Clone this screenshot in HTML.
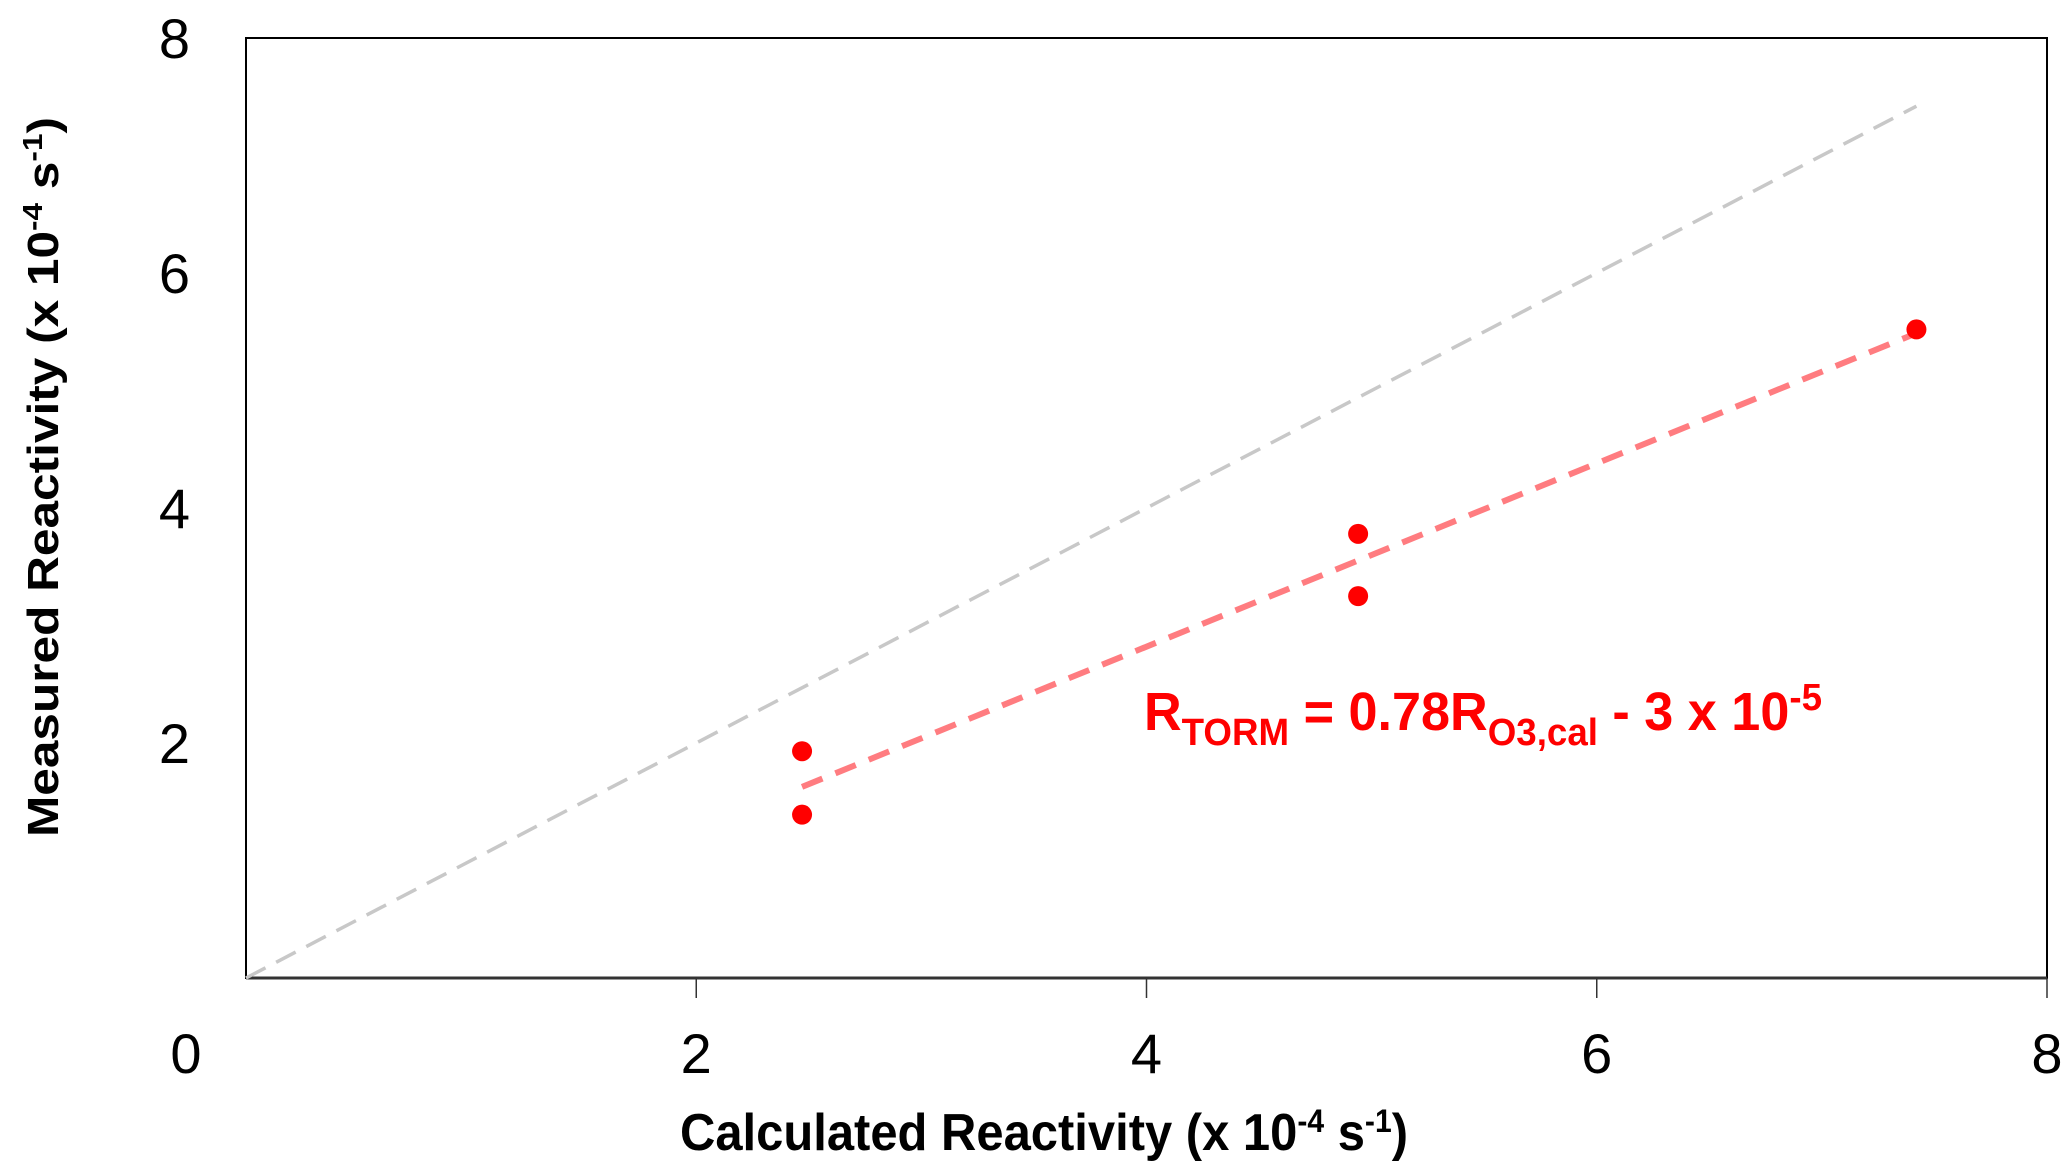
<!DOCTYPE html>
<html><head><meta charset="utf-8"><style>
html,body{margin:0;padding:0;background:#fff;}
svg{display:block;font-family:"Liberation Sans",sans-serif;}
</style></head><body>
<svg id="chart" width="2067" height="1173" viewBox="0 0 2067 1173" xmlns="http://www.w3.org/2000/svg">
<rect x="0" y="0" width="2067" height="1173" fill="#fff"/>
<g id="plot"></g>
<text x="1044" y="1150" font-size="52" font-weight="bold" text-anchor="middle" textLength="728" lengthAdjust="spacingAndGlyphs">Calculated Reactivity (x 10<tspan dy="-18" font-size="32">-4</tspan><tspan dy="18"> s</tspan><tspan dy="-18" font-size="32">-1</tspan><tspan dy="18">)</tspan></text>
<text transform="translate(58,477) rotate(-90)" x="0" y="0" font-size="44" font-weight="bold" text-anchor="middle" textLength="720" lengthAdjust="spacingAndGlyphs">Measured Reactivity (x 10<tspan dy="-16" font-size="28">-4</tspan><tspan dy="16"> s</tspan><tspan dy="-16" font-size="28">-1</tspan><tspan dy="16">)</tspan></text>
<text x="1144" y="730" font-size="54" font-weight="bold" fill="#ff0000" textLength="678" lengthAdjust="spacingAndGlyphs">R<tspan dy="15" font-size="38">TORM</tspan><tspan dy="-15"> = 0.78R</tspan><tspan dy="15" font-size="38">O3,cal</tspan><tspan dy="-15"> - 3 x 10</tspan><tspan dy="-20" font-size="38">-5</tspan></text>
</svg>
<script>
const xValues = [2.47, 2.47, 4.94, 4.94, 7.42];
const yValues = [1.93, 1.39, 3.78, 3.25, 5.52];
const xTicks = [0, 2, 4, 6, 8];
const yTicks = [2, 4, 6, 8];
const fitSlope = 0.78;
const fitIntercept = -0.3;
const fitRange = [2.47, 7.42];
const identityRange = [0, 7.42];

const L = 246, R = 2047, T = 38, B = 978;
const sx = v => L + (v / 8) * (R - L);
const sy = v => B - (v / 8) * (B - T);
const NS = 'http://www.w3.org/2000/svg';
const plot = document.getElementById('plot');
function mk(tag, attrs) {
  const e = document.createElementNS(NS, tag);
  for (const k in attrs) e.setAttribute(k, attrs[k]);
  plot.appendChild(e);
  return e;
}
const frame = mk('rect', {x: L, y: T, width: R - L, height: B - T, fill: 'none', stroke: '#000', 'stroke-width': 2});


const xAxis = mk('line', {x1: L, y1: B, x2: R, y2: B, stroke: '#333', 'stroke-width': 3});


xTicks.forEach(t => {
  if (t > 0) {
    const tk = mk('line', {x1: sx(t), y1: B, x2: sx(t), y2: B + 20, stroke: '#333', 'stroke-width': 1.5});
    
    
  }
  const lx = t === 0 ? 186 : sx(t);
  const tx = mk('text', {x: lx, y: 1073, 'font-size': 56, 'text-anchor': 'middle'});
  tx.textContent = t;
  
  
});
yTicks.forEach(t => {
  const tx = mk('text', {x: 190, y: sy(t) + 20, 'font-size': 56, 'text-anchor': 'end'});
  tx.textContent = t;
  
  
});
const idl = mk('line', {x1: sx(identityRange[0]), y1: sy(identityRange[0]), x2: sx(identityRange[1]), y2: sy(identityRange[1]), stroke: '#c8c8c8', 'stroke-width': 3.5, 'stroke-dasharray': '22 12'});


const fy = x => fitSlope * x + fitIntercept;
const fl = mk('line', {x1: sx(fitRange[0]), y1: sy(fy(fitRange[0])), x2: sx(fitRange[1]), y2: sy(fy(fitRange[1])), stroke: '#ff7c80', 'stroke-width': 6, 'stroke-dasharray': '22 14'});


xValues.forEach((x, i) => {
  const c = mk('circle', {cx: sx(x), cy: sy(yValues[i]), r: 10, fill: '#ff0000'});
  
  
});
</script>
</body></html>
